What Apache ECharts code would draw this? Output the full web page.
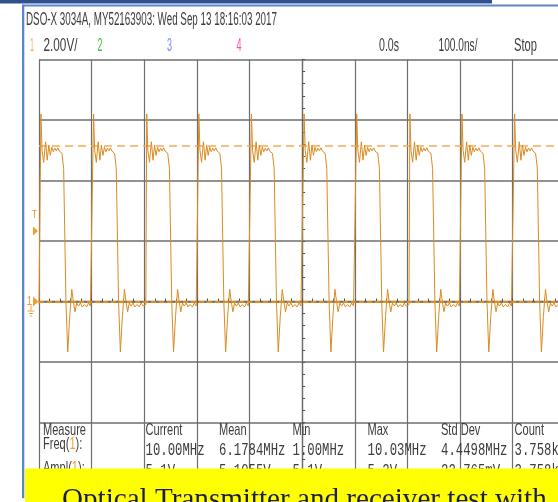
<!DOCTYPE html>
<html>
<head>
<meta charset="utf-8">
<script src="https://cdn.jsdelivr.net/npm/echarts@6/dist/echarts.min.js"></script>
<style>
html,body{margin:0;padding:0;background:#fff;overflow:hidden;width:558px;height:502px;}
#c{width:572px;height:552px;}
</style>
</head>
<body>
<div id="c"></div>
<script>
// ---- data ----
const timePerDivNs = 100;
const voltsPerDiv = 2;
const timeMinNs = -500, timeMaxNs = 500;
const voltMin = -8, voltMax = 8;
const risingEdgesNs = [-498, -398, -297, -198, -98, 2, 102, 203, 302, 402];
const pulseOffsetsNs = [0, 1.7, 3.8, 6.9, 10.5, 13.7, 16.6, 19.5, 22.3, 25.2, 28.0, 30.9, 33.8, 36.6, 39.1, 41.6, 43.3, 44.8, 46.7, 49.2, 52.6, 56.4, 60.3, 63.3, 66.4, 69.6, 73.0, 76.7, 80.1, 84.3, 88.5, 92.1, 95.7, 98.8];
const pulseVolts     = [-0.1, 6.2, 5.0, 4.6, 5.28, 4.67, 5.17, 4.83, 5.1, 4.95, 5.07, 4.98, 5.08, 4.97, 5.03, 4.9, 4.85, 4.4, 2.5, 0, -1.67, -0.5, 0.4, 0.0, -0.34, -0.05, -0.15, -0.05, -0.18, -0.1, -0.18, -0.05, -0.15, -0.1];
const baselineVolt = -0.1;
const triggerLevelV = 5.15;
const triggerArrowV = 2.33;

const headerTitle = 'DSO-X 3034A, MY52163903: Wed Sep 13 18:16:03 2017';
const channelLabels = ['1', '2', '3', '4'];
const scaleLabel = '2.00V/';
const timeLabels = ['0.0s', '100.0ns/', 'Stop'];
const measureHeaders = ['Measure', 'Current', 'Mean', 'Min', 'Max', 'Std Dev', 'Count'];
const freqValues = ['10.00MHz', '6.1784MHz', '1.00MHz', '10.03MHz', '4.4498MHz', '3.758k'];
const amplValues = ['5.1V', '5.1055V', '5.1V', '5.2V', '22.765mV', '3.758k'];
const bannerText = 'Optical Transmitter and receiver test with';

// ---- build trace ----
const trace = [[timeMinNs, baselineVolt]];
risingEdgesNs.forEach(function (r) {
  pulseOffsetsNs.forEach(function (o, i) { trace.push([r + o, pulseVolts[i]]); });
});

const chart = echarts.init(document.getElementById('c'), null, {renderer: 'canvas'});
const gridLineColor = '#6e6e6e';
chart.setOption({
  animation: false,
  backgroundColor: '#ffffff',
  grid: {left: 39, top: 59.5, width: 526.3, height: 484, containLabel: false},
  xAxis: {
    type: 'value', min: timeMinNs, max: timeMaxNs, interval: timePerDivNs,
    axisLabel: {show: false},
    axisLine: {show: true, onZero: true, lineStyle: {color: '#6a6a6a', width: 1.3}},
    axisTick: {show: true, inside: true, length: 3, lineStyle: {color: '#555'}},
    minorTick: {show: true, splitNumber: 5, length: 3, lineStyle: {color: '#555'}},
    splitLine: {show: true, lineStyle: {color: gridLineColor, width: 1.2}}
  },
  yAxis: {
    type: 'value', min: voltMin, max: voltMax, interval: voltsPerDiv,
    axisLabel: {show: false},
    axisLine: {show: true, onZero: true, lineStyle: {color: '#6a6a6a', width: 1.3}},
    axisTick: {show: true, inside: true, length: 3, lineStyle: {color: '#555'}},
    minorTick: {show: true, splitNumber: 5, length: 3, lineStyle: {color: '#555'}},
    splitLine: {show: true, lineStyle: {color: gridLineColor, width: 1.5}}
  },
  series: [{
    type: 'line', data: trace, showSymbol: false, symbol: 'none',
    lineStyle: {color: '#d98c22', width: 1}, z: 5,
    markLine: {
      silent: true, symbol: 'none', label: {show: false}, animation: false,
      data: [
        {yAxis: triggerLevelV, lineStyle: {color: '#f8ab55', width: 1.5, type: [8, 5]}},
        {yAxis: 0, lineStyle: {color: '#e68a10', width: 1.8, type: [5, 3]}}
      ]
    }
  }]
});

// ---- text helpers ----
const mctx = document.createElement('canvas').getContext('2d');
function fit(text, size, family, target) {
  mctx.font = size + 'px ' + family;
  return target / mctx.measureText(text).width;
}
const SANS = '"Liberation Sans"';
const MONO = '"Liberation Mono"';
const txtColor = '#3c3c3c';
function label(text, x, y, size, family, sx, fill, extra) {
  const st = {text: text, fontSize: size, fontFamily: family, fill: fill || txtColor, align: 'left', verticalAlign: 'middle'};
  if (extra) Object.assign(st, extra);
  return {type: 'text', x: x, y: y, scaleX: sx, style: st, z: 50};
}

const g = [];
// slide decorations
g.push({type: 'rect', shape: {x: 0, y: 0, width: 492, height: 3.5}, style: {fill: '#2f528f'}, z: 60});
g.push({type: 'rect', shape: {x: 23, y: 4.5, width: 560, height: 2}, style: {fill: '#5b87c8'}, z: 60});
g.push({type: 'rect', shape: {x: 22, y: 4.5, width: 2.3, height: 494}, style: {fill: '#5b87c8'}, z: 60});
g.push({type: 'rect', shape: {x: 0, y: 498.5, width: 25, height: 60}, style: {fill: '#ffffff'}, z: 61});

// header
g.push(label(headerTitle, 26, 20.5, 18, SANS, fit(headerTitle, 18, SANS, 251)));
const l2y = 46.5;
g.push(label(channelLabels[0], 30, l2y, 18, SANS, fit('1', 18, SANS, 4), '#f9b060'));
g.push(label(scaleLabel, 43.5, l2y, 18, SANS, fit(scaleLabel, 18, SANS, 34)));
g.push(label(channelLabels[1], 97.5, l2y, 18, SANS, fit('2', 18, SANS, 5), '#3fc43f'));
g.push(label(channelLabels[2], 167, l2y, 18, SANS, fit('3', 18, SANS, 5), '#7f8cff'));
g.push(label(channelLabels[3], 236.5, l2y, 18, SANS, fit('4', 18, SANS, 5), '#ff4fa0'));
g.push(label(timeLabels[0], 379, l2y, 18, SANS, fit(timeLabels[0], 18, SANS, 20)));
g.push(label(timeLabels[1], 438.5, l2y, 18, SANS, fit(timeLabels[1], 18, SANS, 39)));
g.push(label(timeLabels[2], 514, l2y, 18, SANS, fit(timeLabels[2], 18, SANS, 23)));

// measurement table
const colX = [43, 145.5, 219, 292.5, 367.5, 441, 514.5];
const hdrScale = fit('Measure', 16.5, SANS, 43);
measureHeaders.forEach(function (h, i) { g.push(label(h, colX[i], 430, 16.5, SANS, hdrScale)); });
const richLab = {o: {fill: '#f5a030', fontSize: 16.5, fontFamily: SANS}};
g.push(label('Freq({o|1}):', colX[0], 444.5, 16.5, SANS, hdrScale, txtColor, {rich: richLab}));
g.push(label('Ampl({o|1}):', colX[0], 468.5, 16.5, SANS, hdrScale, txtColor, {rich: richLab}));
const valScale = fit('10.03MHz', 18, MONO, 59);
freqValues.forEach(function (v, i) { g.push(label(v, colX[i + 1], 450, 18, MONO, valScale)); });
amplValues.forEach(function (v, i) { g.push(label(v, colX[i + 1], 471, 18, MONO, valScale)); });

// ground / trigger markers tied to the voltage axis
const gy = chart.convertToPixel({yAxisIndex: 0}, 0);
const ty = chart.convertToPixel({yAxisIndex: 0}, triggerArrowV);
const mk = '#f0a030';
g.push(label('1', 26.5, gy, 13, SANS, 0.8, mk));
g.push({type: 'polygon', shape: {points: [[33, gy - 5], [38.5, gy], [33, gy + 5]]}, style: {fill: mk}, z: 50});
g.push({type: 'line', shape: {x1: 31, y1: gy + 4, x2: 31, y2: gy + 9}, style: {stroke: mk, lineWidth: 1}, z: 50});
g.push({type: 'line', shape: {x1: 27.5, y1: gy + 9.5, x2: 34.5, y2: gy + 9.5}, style: {stroke: mk, lineWidth: 1}, z: 50});
g.push({type: 'line', shape: {x1: 29, y1: gy + 12, x2: 33, y2: gy + 12}, style: {stroke: mk, lineWidth: 1}, z: 50});
g.push({type: 'line', shape: {x1: 30.2, y1: gy + 14.5, x2: 31.8, y2: gy + 14.5}, style: {stroke: mk, lineWidth: 1}, z: 50});
g.push(label('T', 31.5, ty - 16, 11, SANS, 0.9, mk));
g.push({type: 'polygon', shape: {points: [[33, ty - 4.5], [38, ty], [33, ty + 4.5]]}, style: {fill: mk}, z: 50});

// banner
g.push({type: 'rect', shape: {x: 25, y: 468.5, width: 560, height: 90}, style: {fill: '#ffff00'}, z: 80});
const SERIF = '"Liberation Serif"';
mctx.font = '27px ' + SERIF;
const bannerSize = 27 * 485 / mctx.measureText(bannerText).width;
g.push({type: 'text', x: 62, y: 500.5, z: 90,
  style: {text: bannerText, fontSize: bannerSize, fontFamily: SERIF, fill: '#1c1c5a', align: 'left', verticalAlign: 'middle'}});

chart.setOption({graphic: {elements: g}});
</script>
</body>
</html>
